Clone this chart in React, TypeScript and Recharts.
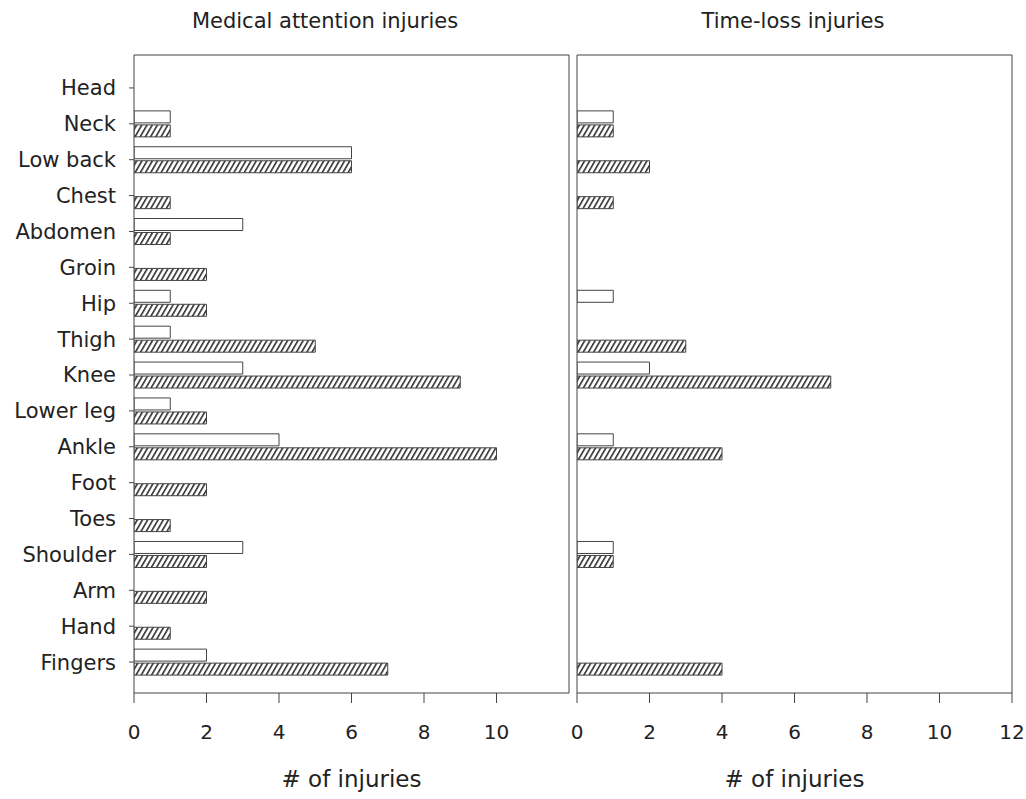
import { Bar, BarChart, XAxis, YAxis } from "recharts"

const bodyParts = [
  "Head", "Neck", "Low back", "Chest", "Abdomen", "Groin", "Hip", "Thigh", "Knee",
  "Lower leg", "Ankle", "Foot", "Toes", "Shoulder", "Arm", "Hand", "Fingers",
]

// open (white) bars and hatched bars, per body part
const medicalOpen = [0, 1, 6, 0, 3, 0, 1, 1, 3, 1, 4, 0, 0, 3, 0, 0, 2]
const medicalHatched = [0, 1, 6, 1, 1, 2, 2, 5, 9, 2, 10, 2, 1, 2, 2, 1, 7]
const timeLossOpen = [0, 1, 0, 0, 0, 0, 1, 0, 2, 0, 1, 0, 0, 1, 0, 0, 0]
const timeLossHatched = [0, 1, 2, 1, 0, 0, 0, 3, 7, 0, 4, 0, 0, 1, 0, 0, 4]

const medicalTicks = [0, 2, 4, 6, 8, 10]
const timeLossTicks = [0, 2, 4, 6, 8, 10, 12]

const medicalData = bodyParts.map((part, i) => ({ part, open: medicalOpen[i], hatched: medicalHatched[i] }))
const timeLossData = bodyParts.map((part, i) => ({ part, open: timeLossOpen[i], hatched: timeLossHatched[i] }))

const FONT = "'DejaVu Sans', Verdana, sans-serif"
const INK = "#222"
const LINE = "#444"

type PanelProps = {
  data: { part: string; open: number; hatched: number }[]
  ticks: number[]
  width: number
  marginLeft: number
  marginRight: number
  showLabels: boolean
}

function Panel({ data, ticks, width, marginLeft, marginRight, showLabels }: PanelProps) {
  return (
    <BarChart
      width={width}
      height={799}
      data={data}
      layout="vertical"
      margin={{ top: 54, right: marginRight, bottom: 0, left: marginLeft }}
      barSize={12}
      barGap={2}
    >
      <XAxis
        type="number"
        domain={[0, 12]}
        ticks={ticks}
        allowDataOverflow
        height={106}
        tickSize={10}
        tickMargin={22}
        stroke={LINE}
        tick={{ fill: INK, fontSize: 20, fontFamily: FONT }}
        label={{ value: "# of injuries", position: "insideBottom", offset: 12, fill: INK, fontSize: 23, fontFamily: FONT }}
      />
      <XAxis xAxisId="top" orientation="top" type="number" domain={[0, 12]} height={1} tick={false} tickLine={false} stroke={LINE} />
      <YAxis
        type="category"
        dataKey="part"
        width={showLabels ? 134 : 1}
        padding={{ top: 15, bottom: 13 }}
        tick={showLabels ? { fill: INK, fontSize: 21, fontFamily: FONT } : false}
        tickSize={5}
        tickMargin={13}
        stroke={LINE}
      />
      <YAxis yAxisId="right" orientation="right" type="category" dataKey="part" width={1} tick={false} tickLine={false} stroke={LINE} />
      <Bar dataKey="open" fill="#fff" stroke={LINE} strokeWidth={1} isAnimationActive={false} />
      <Bar dataKey="hatched" fill="url(#hatch)" stroke={LINE} strokeWidth={1} isAnimationActive={false} />
    </BarChart>
  )
}

const titleStyle = {
  position: "absolute" as const,
  top: 11,
  width: 400,
  textAlign: "center" as const,
  fontFamily: FONT,
  fontSize: 21,
  lineHeight: "21px",
  color: INK,
}

export default function App() {
  return (
    <div style={{ position: "absolute", left: 0, top: 0, width: 1026, height: 799, background: "#fff", overflow: "hidden" }}>
      <svg width={0} height={0} style={{ position: "absolute" }}>
        <defs>
          <pattern id="hatch" patternUnits="userSpaceOnUse" width={4.5} height={5} patternTransform="rotate(30)">
            <rect width={4.5} height={5} fill="#fff" />
            <line x1={0.8} y1={0} x2={0.8} y2={5} stroke="#222" strokeWidth={1.5} />
          </pattern>
        </defs>
      </svg>
      <div style={{ ...titleStyle, left: 125 }}>Medical attention injuries</div>
      <div style={{ ...titleStyle, left: 593 }}>Time-loss injuries</div>
      <div style={{ position: "absolute", left: 0, top: 0 }}>
        <Panel data={medicalData} ticks={medicalTicks} width={572} marginLeft={0} marginRight={2} showLabels />
      </div>
      <div style={{ position: "absolute", left: 557, top: 0 }}>
        <Panel data={timeLossData} ticks={timeLossTicks} width={469} marginLeft={19} marginRight={13} showLabels={false} />
      </div>
    </div>
  )
}
